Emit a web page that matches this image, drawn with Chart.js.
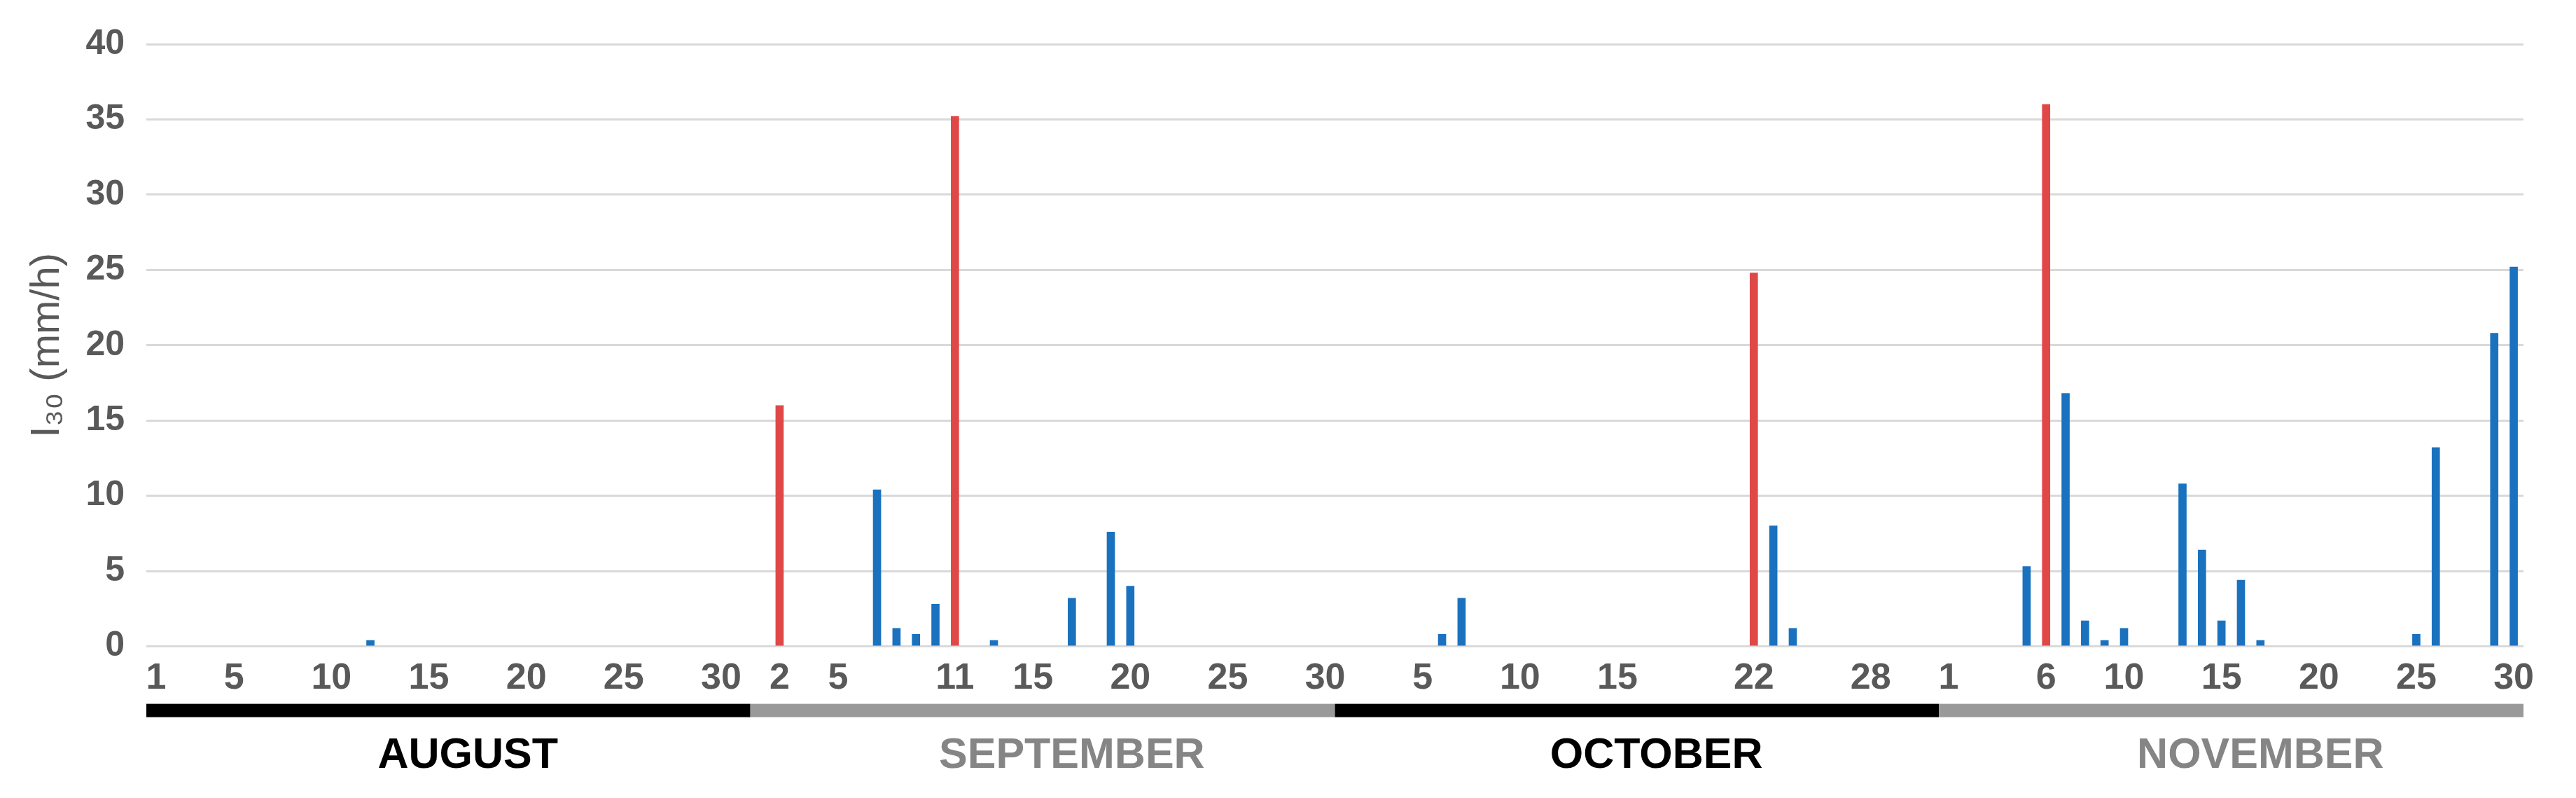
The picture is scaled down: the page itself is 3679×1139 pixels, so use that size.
<!DOCTYPE html>
<html>
<head>
<meta charset="utf-8">
<script src="https://cdn.jsdelivr.net/npm/chart.js@4.4.1/dist/chart.umd.min.js"></script>
<style>
  html, body { margin: 0; padding: 0; background: #ffffff; }
  #wrap { width: 3679px; height: 1139px; }
</style>
</head>
<body>
<div id="wrap"><canvas id="myChart" width="3679" height="1139"></canvas></div>
<script>
// months shown on the x axis
const monthNames = ['AUGUST', 'SEPTEMBER', 'OCTOBER', 'NOVEMBER'];
const monthNums = ['08', '09', '10', '11'];
const monthDays = [31, 30, 31, 30];
// day numbers that get a tick label, per month
const tickDays = [
    [1, 5, 10, 15, 20, 25, 30],
    [2, 5, 11, 15, 20, 25, 30],
    [5, 10, 15, 22, 28],
    [1, 6, 10, 15, 20, 25, 30]
];

// erosive events (red)
const eventDates = ['09-02', '09-11', '10-22', '11-06'];
const eventI30 = [16.0, 35.2, 24.8, 36.0];

// other rain days (blue)
const rainDates = ['08-12', '09-07', '09-08', '09-09', '09-10', '09-13', '09-17', '09-19', '09-20',
    '10-06', '10-07', '10-23', '10-24',
    '11-05', '11-07', '11-08', '11-09', '11-10', '11-13', '11-14', '11-15', '11-16', '11-17',
    '11-25', '11-26', '11-29', '11-30'];
const rainI30 = [0.4, 10.4, 1.2, 0.8, 2.8, 0.4, 3.2, 7.6, 4.0,
    0.8, 3.2, 8.0, 1.2,
    5.3, 16.8, 1.7, 0.4, 1.2, 10.8, 6.4, 1.7, 4.4, 0.4,
    0.8, 13.2, 20.8, 25.2];

// one category per day
let labels = [];
monthNums.forEach((m, i) => {
    for (let d = 1; d <= monthDays[i]; d++) {
        labels.push(m + '-' + String(d).padStart(2, '0'));
    }
});

const monthBars = {
    id: 'monthBars',
    afterDraw(chart) {
        const ctx = chart.ctx;
        const xs = chart.scales.x;
        const half = (xs.getPixelForValue(1) - xs.getPixelForValue(0)) / 2;
        const yBar = chart.chartArea.bottom + 82;
        let start = 0;
        ctx.save();
        monthNames.forEach((name, i) => {
            const end = start + monthDays[i] - 1;
            const x0 = xs.getPixelForValue(start) - half;
            const x1 = xs.getPixelForValue(end) + half;
            ctx.fillStyle = i % 2 === 0 ? '#000000' : '#999999';
            ctx.fillRect(x0, yBar, x1 - x0, 19);
            // month name sits around the middle of the month
            ctx.fillStyle = i % 2 === 0 ? '#000000' : '#858585';
            ctx.font = 'bold 61px "Liberation Sans", Arial, sans-serif';
            ctx.textAlign = 'center';
            ctx.textBaseline = 'middle';
            ctx.fillText(name, xs.getPixelForValue(start + 16), chart.chartArea.bottom + 157);
            start = end + 1;
        });
        ctx.restore();
    }
};

const canvas = document.getElementById('myChart');
window.myChart = new Chart(canvas.getContext('2d'), {
    type: 'bar',
    data: {
        labels: labels,
        datasets: [
            {
                label: 'events',
                data: eventDates.map((d, i) => ({ x: d, y: eventI30[i] })),
                backgroundColor: '#E04848',
                barThickness: 11,
                grouped: false
            },
            {
                label: 'rain',
                data: rainDates.map((d, i) => ({ x: d, y: rainI30[i] })),
                backgroundColor: '#1A72BF',
                barThickness: 11,
                grouped: false
            }
        ]
    },
    options: {
        responsive: false,
        animation: false,
        layout: { padding: { top: 63, left: 0, right: 75, bottom: 124 } },
        plugins: {
            legend: { display: false },
            tooltip: { enabled: false }
        },
        scales: {
            x: {
                offset: true,
                grid: { display: false, drawTicks: false },
                border: { display: false },
                ticks: {
                    autoSkip: false,
                    maxRotation: 0,
                    padding: 15,
                    color: '#595959',
                    font: { family: '"Liberation Sans", Arial, sans-serif', size: 52, weight: 'bold' },
                    callback: function(value) {
                        const lab = this.getLabelForValue(value);
                        const m = monthNums.indexOf(lab.slice(0, 2));
                        const d = parseInt(lab.slice(3), 10);
                        return tickDays[m].includes(d) ? String(d) : null;
                    }
                }
            },
            y: {
                min: 0,
                max: 40,
                afterFit: (scale) => { scale.width = 209; },
                grid: { color: '#D9D9D9', lineWidth: 3, drawTicks: false },
                border: { display: false },
                ticks: {
                    stepSize: 5,
                    padding: 31,
                    color: '#595959',
                    font: { family: '"Liberation Sans", Arial, sans-serif', size: 50, weight: 'bold' }
                },
                title: {
                    display: true,
                    text: 'I₃₀ (mm/h)',
                    color: '#595959',
                    padding: { top: 33, bottom: 0 },
                    font: { family: '"Liberation Sans", Arial, sans-serif', size: 58 }
                }
            }
        }
    },
    plugins: [monthBars]
});
</script>
</body>
</html>
